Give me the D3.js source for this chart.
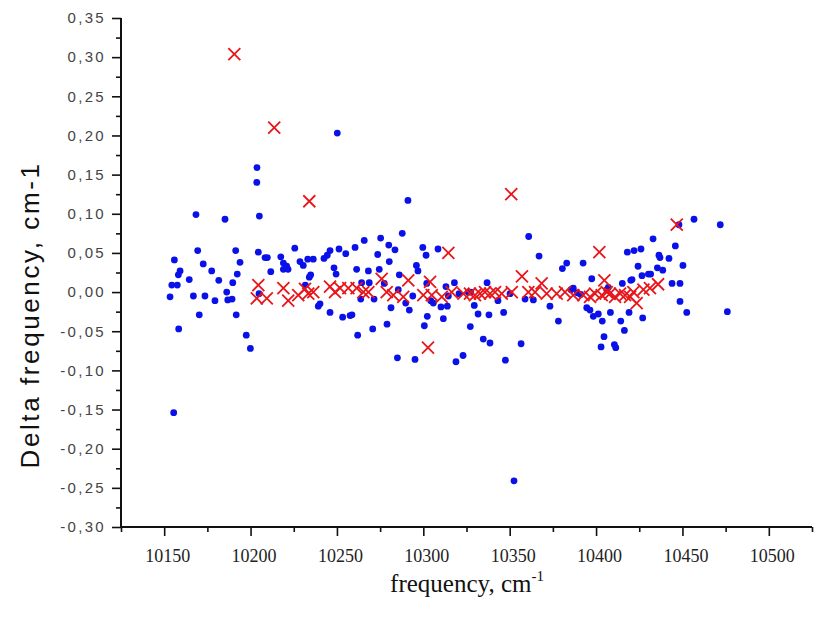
<!DOCTYPE html>
<html>
<head>
<meta charset="utf-8">
<script src="https://cdn.jsdelivr.net/npm/d3@7"></script>
<style>
  body { margin: 0; background: #fff; }
  svg { display: block; }
</style>
</head>
<body>
<script>
// tick values
var xMajor = [10150, 10200, 10250, 10300, 10350, 10400, 10450, 10500];
var xMinor = [10125, 10175, 10225, 10275, 10325, 10375, 10425, 10475, 10525];
var yMajor = [-0.30, -0.25, -0.20, -0.15, -0.10, -0.05, 0.00, 0.05, 0.10, 0.15, 0.20, 0.25, 0.30, 0.35];
var yMinor = [-0.275, -0.225, -0.175, -0.125, -0.075, -0.025, 0.025, 0.075, 0.125, 0.175, 0.225, 0.275, 0.325];

// blue dots: [frequency, delta]
var dots = [
  [10153.4, -0.006], [10154.4, 0.009], [10155.9, 0.041], [10159.2, 0.027], [10158.2, 0.022],
  [10157.6, 0.009], [10158.4, -0.047], [10155.5, -0.154], [10164.5, 0.016], [10168.4, 0.099],
  [10169.4, 0.053], [10166.9, -0.005], [10170.3, -0.029], [10172.6, 0.036], [10173.6, -0.005],
  [10177.5, 0.027], [10179.4, -0.011], [10181.6, 0.015], [10185.2, 0.093], [10186.2, 0.000],
  [10186.8, -0.010], [10189.3, -0.009], [10189.7, 0.012], [10191.4, 0.053], [10192.3, 0.023],
  [10191.7, -0.029], [10193.9, 0.038], [10197.5, -0.055], [10199.9, -0.072], [10203.6, 0.140],
  [10203.7, 0.159], [10205.1, 0.097], [10204.5, 0.051], [10204.9, -0.002], [10208.4, 0.044],
  [10209.7, 0.044], [10211.7, 0.026], [10217.5, 0.045], [10219.0, 0.037], [10220.9, 0.033],
  [10219.0, 0.029], [10221.7, 0.029], [10225.6, 0.056], [10228.6, 0.039], [10230.5, 0.034],
  [10233.1, 0.042], [10236.3, 0.042], [10234.8, 0.022], [10234.0, 0.019], [10231.7, 0.009],
  [10242.5, 0.043], [10244.4, 0.047], [10246.0, 0.053], [10248.3, 0.031], [10249.5, 0.023],
  [10250.2, 0.203], [10251.2, 0.055], [10255.1, 0.049], [10260.5, 0.057], [10261.4, 0.029],
  [10240.2, -0.015], [10239.2, -0.018], [10246.0, -0.026], [10253.3, -0.032], [10257.6, -0.030],
  [10258.7, -0.029], [10262.0, -0.055], [10263.8, -0.009], [10264.3, 0.012], [10265.8, 0.066],
  [10268.2, 0.027], [10268.7, 0.012], [10270.7, -0.047], [10271.5, -0.009], [10273.6, 0.048],
  [10274.5, 0.029], [10275.3, 0.069], [10277.4, 0.011], [10279.0, -0.041], [10280.0, 0.060],
  [10280.3, 0.039], [10281.3, -0.020], [10283.6, 0.054], [10285.0, -0.084], [10285.5, 0.003],
  [10286.1, 0.022], [10287.8, 0.075], [10289.8, -0.014], [10291.1, 0.117], [10291.9, -0.023],
  [10293.9, -0.005], [10295.2, -0.086], [10296.0, 0.034], [10296.9, 0.027], [10299.7, 0.057],
  [10300.6, -0.043], [10301.6, 0.047], [10302.0, 0.011], [10302.3, -0.031], [10304.3, -0.011],
  [10305.8, -0.014], [10308.5, 0.055], [10310.2, -0.019], [10311.6, -0.034], [10313.1, 0.007],
  [10313.9, -0.018], [10314.5, -0.005], [10318.0, 0.012], [10318.9, -0.089], [10320.7, -0.002],
  [10323.0, -0.081], [10326.0, 0.000], [10327.4, 0.000], [10327.2, -0.044], [10329.5, -0.017],
  [10331.7, -0.028], [10334.7, -0.060], [10336.9, 0.012], [10338.0, -0.029], [10338.6, -0.065],
  [10343.2, -0.011], [10346.5, -0.026], [10347.5, -0.087], [10350.2, -0.002], [10352.5, -0.241],
  [10356.6, -0.066], [10358.9, -0.009], [10361.0, 0.071], [10363.7, -0.010], [10367.0, 0.046],
  [10373.3, -0.018], [10378.2, -0.037], [10380.5, 0.030], [10383.0, 0.037], [10385.5, 0.003],
  [10386.8, 0.005], [10389.2, -0.001], [10391.1, -0.003], [10392.5, 0.037], [10394.6, -0.020],
  [10396.5, -0.023], [10397.5, 0.017], [10398.4, -0.031], [10401.3, -0.028], [10402.9, -0.070],
  [10403.6, -0.037], [10404.6, -0.057], [10406.2, 0.003], [10407.1, 0.006], [10408.3, -0.026],
  [10410.6, -0.067], [10411.4, -0.071], [10414.3, -0.037], [10415.2, 0.011], [10416.4, -0.049],
  [10418.1, 0.051], [10419.1, -0.026], [10420.1, 0.015], [10420.8, 0.016], [10422.0, 0.053],
  [10424.3, 0.033], [10426.0, 0.055], [10426.6, 0.021], [10427.0, -0.033], [10430.3, 0.023],
  [10431.6, 0.023], [10433.0, 0.068], [10435.5, 0.031], [10436.4, 0.047], [10437.0, 0.044],
  [10438.6, 0.028], [10442.2, 0.043], [10444.0, 0.011], [10445.9, 0.059], [10448.0, 0.086],
  [10448.6, 0.011], [10448.6, -0.012], [10450.3, 0.034], [10452.5, -0.026], [10456.7, 0.093],
  [10471.9, 0.086], [10476.0, -0.025]
];

// red crosses: [frequency, delta]
var crosses = [
  [10190.6, 0.304], [10213.7, 0.210], [10234.0, 0.116], [10350.9, 0.125], [10314.5, 0.050],
  [10401.9, 0.051], [10446.7, 0.086], [10302.7, -0.071], [10357.1, 0.020], [10204.5, 0.009],
  [10203.6, -0.008], [10209.4, -0.008], [10219.0, 0.005], [10221.8, -0.011], [10227.6, -0.004],
  [10231.5, 0.004], [10233.4, -0.002], [10236.3, 0.000], [10246.0, 0.007], [10248.9, 0.000],
  [10251.8, 0.005], [10256.6, 0.005], [10261.4, 0.005], [10265.3, 0.000], [10268.2, 0.000],
  [10275.9, 0.017], [10278.8, 0.000], [10282.6, -0.004], [10288.4, -0.006], [10291.3, 0.015],
  [10300.0, -0.004], [10303.9, 0.013], [10304.9, -0.004], [10310.7, -0.006], [10316.4, 0.000],
  [10323.2, -0.002], [10327.0, -0.002], [10329.9, -0.004], [10332.8, -0.002], [10335.7, 0.000],
  [10338.6, -0.002], [10341.5, 0.000], [10345.4, -0.002], [10351.2, 0.000], [10360.8, 0.000],
  [10364.7, 0.000], [10368.5, 0.011], [10371.4, -0.002], [10377.2, -0.002], [10382.0, 0.000],
  [10386.8, -0.004], [10392.6, -0.004], [10396.5, -0.006], [10399.4, -0.002], [10403.3, -0.004],
  [10406.2, 0.000], [10404.8, 0.015], [10408.0, -0.002], [10411.0, -0.006], [10413.9, -0.002],
  [10416.8, -0.004], [10419.7, -0.006], [10421.6, 0.000], [10423.5, -0.014], [10427.4, 0.003],
  [10431.2, 0.005], [10435.9, 0.010]
];

const width = 821;
const height = 618;

var svg = d3.select("body").append("svg")
    .attr("width", width)
    .attr("height", height);

var x = d3.scaleLinear().domain([10125, 10525]).range([121, 812]);
var y = d3.scaleLinear().domain([-0.30, 0.35]).range([527, 18]);

var loc = d3.formatLocale({ decimal: ",", thousands: ".", grouping: [3], currency: ["", ""], minus: "-" });
var fmt = loc.format(".2f");

// minor ticks
svg.append("g")
    .attr("transform", "translate(0,527)")
    .call(d3.axisBottom(x).tickValues(xMinor).tickSize(5).tickFormat(""))
    .call(g => g.select(".domain").remove())
    .selectAll("line").attr("stroke", "#111").attr("stroke-width", 1.6);

svg.append("g")
    .attr("transform", "translate(121,0)")
    .call(d3.axisLeft(y).tickValues(yMinor).tickSize(5).tickFormat(""))
    .call(g => g.select(".domain").remove())
    .selectAll("line").attr("stroke", "#111").attr("stroke-width", 1.6);

// major ticks
var xAxis = svg.append("g")
    .attr("transform", "translate(0,527)")
    .call(d3.axisBottom(x).tickValues(xMajor).tickSize(9).tickPadding(13).tickFormat(d3.format("d")))
    .call(g => g.select(".domain").remove());
xAxis.selectAll("line").attr("stroke", "#111").attr("stroke-width", 1.6);
xAxis.selectAll("text")
    .attr("dx", 3)
    .attr("fill", "#222")
    .style("font-family", "'Liberation Serif', 'Times New Roman', serif")
    .style("font-size", "18px");

var yAxis = svg.append("g")
    .attr("transform", "translate(121,0)")
    .call(d3.axisLeft(y).tickValues(yMajor).tickSize(9).tickPadding(6).tickFormat(fmt))
    .call(g => g.select(".domain").remove());
yAxis.selectAll("line").attr("stroke", "#111").attr("stroke-width", 1.6);
yAxis.selectAll("text")
    .attr("fill", "#444")
    .style("font-family", "'Liberation Sans', Arial, sans-serif")
    .style("font-size", "15px")
    .style("letter-spacing", "2.3px");

// axis lines
svg.append("line")
    .attr("x1", 121).attr("x2", 121).attr("y1", 18).attr("y2", 528)
    .attr("stroke", "#111").attr("stroke-width", 2);
svg.append("line")
    .attr("x1", 120).attr("x2", 812).attr("y1", 527).attr("y2", 527)
    .attr("stroke", "#111").attr("stroke-width", 2);

// dots
svg.append("g").selectAll("circle")
    .data(dots)
    .enter().append("circle")
    .attr("cx", d => x(d[0]))
    .attr("cy", d => y(d[1]))
    .attr("r", 3.4)
    .attr("fill", "#0a10e8");

// crosses
var s = 6;
svg.append("g").selectAll("path")
    .data(crosses)
    .enter().append("path")
    .attr("d", d => {
        var cx = x(d[0]), cy = y(d[1]);
        return "M" + (cx - s) + "," + (cy - s) + "L" + (cx + s) + "," + (cy + s) +
               "M" + (cx - s) + "," + (cy + s) + "L" + (cx + s) + "," + (cy - s);
    })
    .attr("stroke", "#e8161a")
    .attr("stroke-width", 1.8)
    .attr("fill", "none");

// axis titles
svg.append("text")
    .attr("transform", "translate(39,315) rotate(-90)")
    .attr("text-anchor", "middle")
    .attr("fill", "#111")
    .style("font-family", "'Liberation Sans', Arial, sans-serif")
    .style("font-size", "26px")
    .style("letter-spacing", "2.6px")
    .text("Delta frequency,  cm-1");

var xt = svg.append("text")
    .attr("x", 467)
    .attr("y", 592)
    .attr("text-anchor", "middle")
    .attr("fill", "#111")
    .style("font-family", "'Liberation Serif', 'Times New Roman', serif")
    .style("font-size", "25px");
xt.append("tspan").text("frequency, cm");
xt.append("tspan").attr("dy", -11).style("font-size", "15px").text("-1");
</script>
</body>
</html>
